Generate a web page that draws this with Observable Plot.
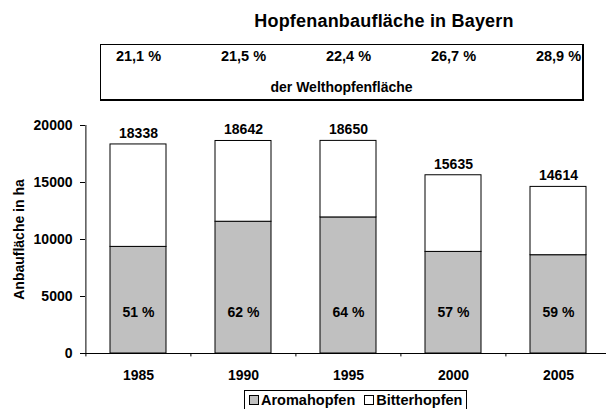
<!DOCTYPE html>
<html><head><meta charset="utf-8">
<script src="https://cdn.jsdelivr.net/npm/d3@7"></script>
<script src="https://cdn.jsdelivr.net/npm/@observablehq/plot@0.6"></script>
<style>
body{margin:0;background:#fff;font-family:"Liberation Sans",Arial,sans-serif;color:#000;}
#wrap{position:relative;width:606px;height:409px;overflow:hidden;}
#title{position:absolute;left:234px;top:11px;width:300px;text-align:center;font-size:18px;font-weight:bold;line-height:20px;white-space:nowrap;letter-spacing:0.2px;}
#box{position:absolute;left:100px;top:44px;width:481px;height:54px;border:1px solid #000;border-right-width:2px;border-bottom-width:2px;}
#boxnote{position:absolute;left:0;right:0;top:34px;text-align:center;font-size:14px;font-weight:bold;line-height:16px;}
#legend{position:absolute;left:244px;top:390px;width:221px;height:18px;border:1px solid #000;display:flex;align-items:center;font-size:14.5px;font-weight:bold;white-space:nowrap;}
.sw{display:inline-block;width:8px;height:8px;border:1px solid #000;margin:0 2px 0 4px;}
#chart{position:absolute;left:0;top:0;}
</style></head><body>
<div id="wrap">
  <div id="chart"></div>
  <div id="title"></div>
  <div id="box"><div id="boxnote"></div></div>
  <div id="legend"></div>
</div>
<script>
const titleText = "Hopfenanbaufläche in Bayern";
const boxNote = "der Welthopfenfläche";
const yLabel = "Anbaufläche in ha";
const years = ["1985", "1990", "1995", "2000", "2005"];
const totals = [18338, 18642, 18650, 15635, 14614];
const aroma = [9352, 11558, 11936, 8912, 8622];
const aromaShare = ["51 %", "62 %", "64 %", "57 %", "59 %"];
const worldShare = ["21,1 %", "21,5 %", "22,4 %", "26,7 %", "28,9 %"];
const yTicks = [0, 5000, 10000, 15000, 20000];
const seriesNames = ["Aromahopfen", "Bitterhopfen"];
const seriesColors = ["#c0c0c0", "#ffffff"];

const table = years.map((y, i) => ({
  year: y, total: totals[i], aroma: aroma[i],
  aromaShare: aromaShare[i], worldShare: worldShare[i]
}));

document.getElementById("title").textContent = titleText;
document.getElementById("boxnote").textContent = boxNote;
const leg = document.getElementById("legend");
seriesNames.forEach((n, i) => {
  const s = document.createElement("span");
  s.className = "sw"; s.style.background = seriesColors[i];
  if (i > 0) s.style.marginLeft = "9px";
  leg.appendChild(s);
  const t = document.createElement("span"); t.textContent = n; leg.appendChild(t);
});

const xStart = 85, xEnd = 611;
const half = (xEnd - xStart) / years.length / 2;

const chart = Plot.plot({
  width: 606, height: 409,
  marginTop: 125, marginBottom: 56, marginLeft: 85, marginRight: 0,
  style: {fontFamily: "'Liberation Sans', Arial, sans-serif", fontSize: "14px", fontWeight: "bold", color: "#000", background: "transparent"},
  x: {type: "band", domain: years, range: [xStart, xEnd], paddingInner: 0.468, paddingOuter: 0.234,
      tickSize: 0, tickPadding: 17, label: null},
  y: {domain: [0, 20000], ticks: yTicks, tickSize: 5, tickPadding: 8, tickFormat: d3.format("d"), label: null},
  marks: [
    Plot.barY(table, {x: "year", y1: 0, y2: "aroma", fill: seriesColors[0], stroke: "#000", strokeWidth: 1}),
    Plot.barY(table, {x: "year", y1: "aroma", y2: "total", fill: seriesColors[1], stroke: "#000", strokeWidth: 1}),
    Plot.text(table, {x: "year", y: "total", text: d => String(d.total), dy: -11, lineAnchor: "middle"}),
    Plot.text(table, {x: "year", text: "aromaShare", frameAnchor: "bottom", lineAnchor: "middle", dy: -41}),
    Plot.text(table, {x: "year", text: "worldShare", frameAnchor: "top", lineAnchor: "middle", dy: -69, fontSize: 14.5}),
    Plot.ruleY([0], {stroke: "#000"}),
    Plot.ruleX(years.slice(0, 1), {x: d => d, dx: -half, y1: 0, y2: 20000, stroke: "#000"}),
    Plot.ruleX(years, {x: d => d, dx: -half, y1: 0, y2: -300, stroke: "#000"}),
    Plot.text([yLabel], {frameAnchor: "left", textAnchor: "middle", lineAnchor: "middle", dx: -66, rotate: -90})
  ]
});
document.getElementById("chart").appendChild(chart);
</script>
</body></html>
